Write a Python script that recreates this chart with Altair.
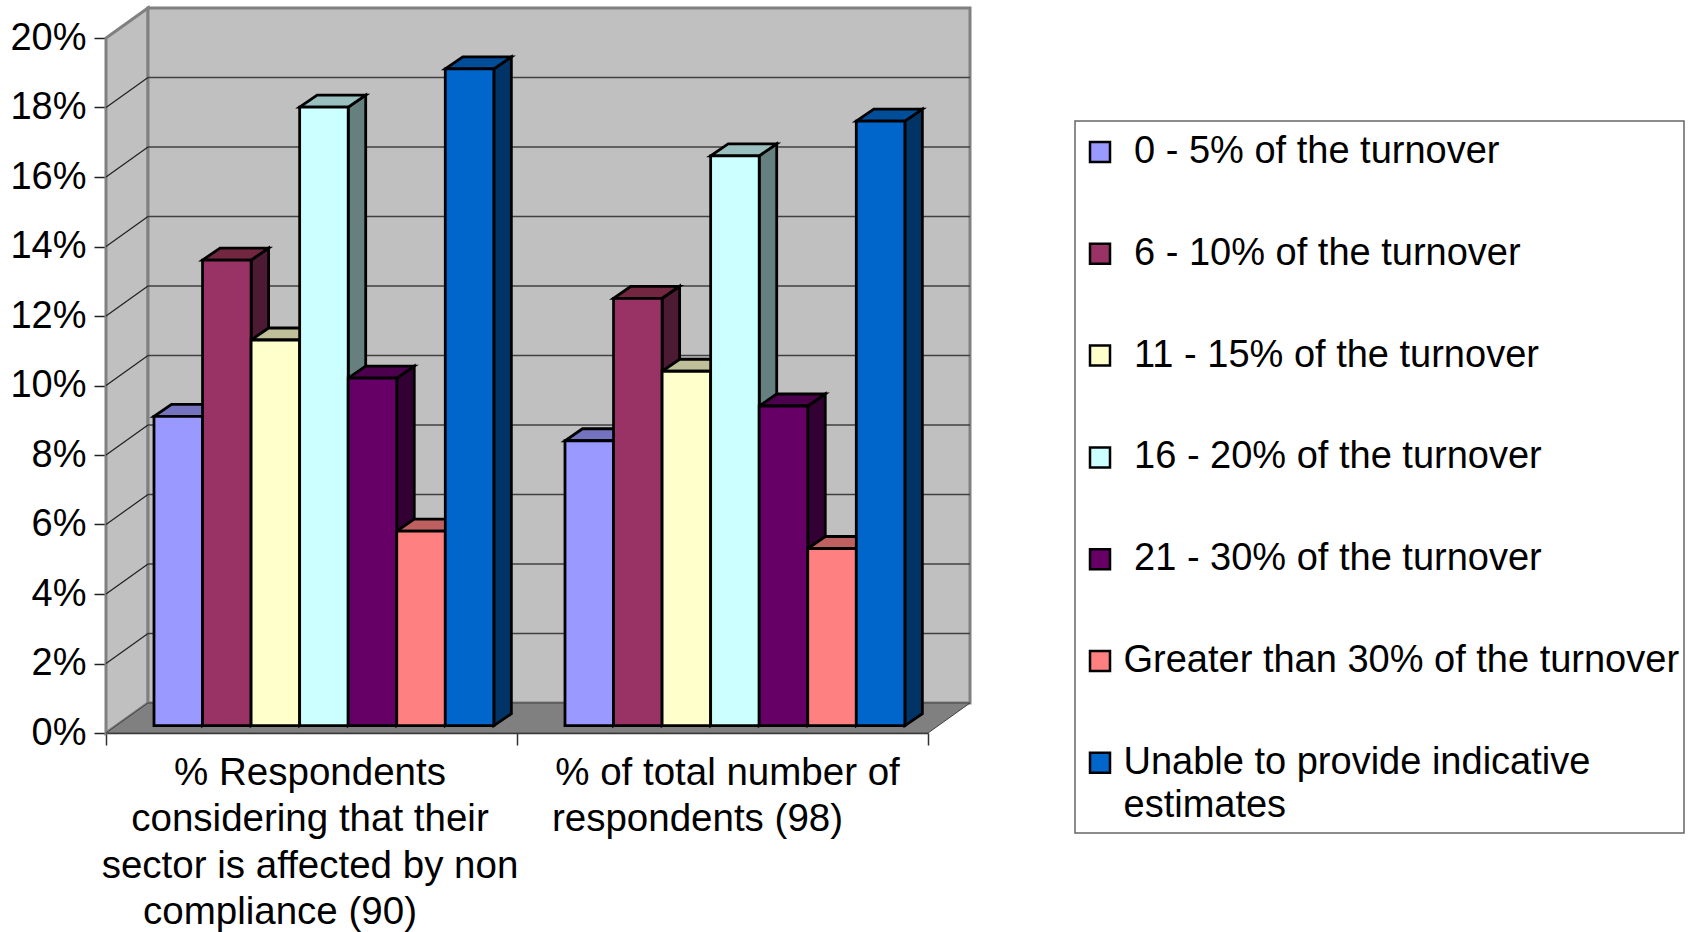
import altair as alt
import pandas as pd

# Survey answers: share of respondents per turnover band, one list per question group.
# A zero-width space keeps the leading blank of the five narrower band labels.
SERIES = [
    "\u200b\u00a00 - 5% of the turnover",
    "\u200b\u00a06 - 10% of the turnover",
    "\u200b\u00a011 - 15% of the turnover",
    "\u200b\u00a016 - 20% of the turnover",
    "\u200b\u00a021 - 30% of the turnover",
    "Greater than 30% of the turnover",
    "Unable to provide indicative estimates",
]
AFFECTED = [8.9, 13.4, 11.1, 17.8, 10.0, 5.6, 18.9]
TOTAL = [8.2, 12.3, 10.2, 16.4, 9.2, 5.1, 17.4]
FRONT = ["#9999FF", "#993366", "#FFFFCC", "#CCFFFF", "#660066", "#FF8080", "#0066CC"]
TOP = ["#7373BF", "#732640", "#BFBF99", "#99BFBF", "#4D004D", "#BF6060", "#004D99"]
SIDE = ["#4D4D80", "#4D1A33", "#808066", "#668080", "#330033", "#804040", "#003366"]
GROUP_LABELS = [
    ["% Respondents", "considering that their", "sector is affected by non", "compliance (90)"],
    ["% of total number of", "respondents (98)"],
]
TICKS = list(range(0, 21, 2))

# Pixel geometry of the plot area and the oblique projection
PLOT_W, PLOT_H = 822, 695
PAD = {"left": 106, "top": 38, "right": 766, "bottom": 199}
PX_X = PLOT_W / 2
PX_Y = PLOT_H / 20
WALL_DX, WALL_DY = 42 / PX_X, 30 / PX_Y
BAR_DX, BAR_DY = 17.5 / PX_X, 12 / PX_Y
BAR_X0 = 48 / PX_X
BAR_W = 48.55 / PX_X
BAR_BASE = 7.3 / PX_Y
BAR_STROKE = 2.8
FONT = "Liberation Sans"
FONT_SIZE = 38
CAPTION_SIZE = 38.5
CAPTION_TOP = -22 / PX_Y
CAPTION_STEP = 46.3 / PX_Y
CAPTION_CENTRES = [0.5 - 1.5 / PX_X, 1.5 + 5 / PX_X]
LAST_LINE_SHIFT = -30 / PX_X

fronts, tops, sides = [], [], []
for g, values in enumerate([AFFECTED, TOTAL]):
    for i, v in enumerate(values):
        key = f"{g}-{i}"
        x0 = g + BAR_X0 + i * BAR_W
        x1 = x0 + BAR_W
        top = BAR_BASE + v
        fronts.append({"series": SERIES[i], "x": x0, "x2": x1, "y": top, "y2": BAR_BASE})
        tops.append({"id": key, "shade": TOP[i], "x": x0, "x2": x1, "y": top})
        tops.append({"id": key, "shade": TOP[i], "x": x0 + BAR_DX, "x2": x1 + BAR_DX, "y": top + BAR_DY})
        sides.append({"id": key, "shade": SIDE[i], "x": x1, "y": top, "y2": BAR_BASE})
        sides.append({"id": key, "shade": SIDE[i], "x": x1 + BAR_DX, "y": top + BAR_DY, "y2": BAR_BASE + BAR_DY})

captions_rows = []
for g, lines in enumerate(GROUP_LABELS):
    for n, line in enumerate(lines):
        shift = LAST_LINE_SHIFT if n == len(lines) - 1 and n > 0 else 0
        captions_rows.append({
            "x": CAPTION_CENTRES[g] + shift,
            "y": CAPTION_TOP - n * CAPTION_STEP,
            "line": line,
        })

x_scale = alt.Scale(domain=[0, 2], nice=False, zero=False)
y_scale = alt.Scale(domain=[0, 20], nice=False, zero=False)

# Real axes along the front edge of the box, shared by every layer
x_axis = alt.Axis(
    title=None, values=[0, 1, 2], labels=False, grid=False, tickSize=12,
    domainColor="#333333", tickColor="#333333", domainWidth=1.5, tickWidth=1.5,
)
y_axis = alt.Axis(
    title=None, values=TICKS, grid=False, tickSize=12, labelPadding=8,
    labelExpr="datum.value + '%'", labelFont=FONT, labelFontSize=FONT_SIZE,
    labelColor="black", domainColor="#222222", tickColor="#222222",
    domainWidth=1.5, tickWidth=1.5,
)
X = lambda f="x": alt.X(f"{f}:Q", scale=x_scale, axis=x_axis, stack=None)
Y = lambda f="y": alt.Y(f"{f}:Q", scale=y_scale, axis=y_axis, stack=None)

# Legend frame
frame = alt.Chart(pd.DataFrame({"a": [0]})).mark_rect(
    fill="white", stroke="#666666", strokeWidth=1.5
).encode(
    x=alt.value(969), x2=alt.value(1578), y=alt.value(83), y2=alt.value(795)
)

# Left wall, back wall and floor
left_wall = alt.Chart(pd.DataFrame({
    "x": [0, WALL_DX], "y": [0, WALL_DY], "y2": [20, 20 + WALL_DY]
})).mark_area(fill="#C0C0C0", stroke="#808080", strokeWidth=3).encode(
    x=X(), y=Y(), y2="y2:Q"
)
back_wall = alt.Chart(pd.DataFrame({
    "x": [WALL_DX], "x2": [2 + WALL_DX], "y": [WALL_DY], "y2": [20 + WALL_DY]
})).mark_rect(fill="#C0C0C0", stroke="#808080", strokeWidth=3).encode(
    x=X(), x2="x2:Q", y=Y(), y2="y2:Q"
)
floor = alt.Chart(pd.DataFrame({
    "x": [0, WALL_DX], "x2": [2, 2 + WALL_DX], "y": [0, WALL_DY]
})).mark_area(orient="horizontal", fill="#808080", stroke="#404040", strokeWidth=1).encode(
    x=X(), x2="x2:Q", y=Y()
)

# Gridlines run along the back wall and fold down the left wall
grid_back = alt.Chart(pd.DataFrame({
    "x": [WALL_DX] * 9, "x2": [2 + WALL_DX] * 9, "y": [t + WALL_DY for t in TICKS[1:-1]]
})).mark_rule(color="#404040", strokeWidth=1.4).encode(x=X(), x2="x2:Q", y=Y())
grid_rows = []
for t in TICKS[1:-1]:
    grid_rows.append({"t": t, "x": 0, "y": t})
    grid_rows.append({"t": t, "x": WALL_DX, "y": t + WALL_DY})
grid_left = alt.Chart(pd.DataFrame(grid_rows)).mark_line(color="#202020", strokeWidth=1.2).encode(
    x=X(), y=Y(), detail="t:N"
)

# Bars: sides first, then tops, then fronts so neighbours overlap correctly
side_faces = alt.Chart(pd.DataFrame(sides)).mark_area(stroke="black", strokeWidth=BAR_STROKE).encode(
    x=X(), y=Y(), y2="y2:Q", detail="id:N", fill=alt.Fill("shade:N", scale=None)
)
top_faces = alt.Chart(pd.DataFrame(tops)).mark_area(orient="horizontal", stroke="black", strokeWidth=BAR_STROKE).encode(
    x=X(), x2="x2:Q", y=Y(), detail="id:N", fill=alt.Fill("shade:N", scale=None)
)
front_faces = alt.Chart(pd.DataFrame(fronts)).mark_rect(stroke="black", strokeWidth=BAR_STROKE).encode(
    x=X(), x2="x2:Q", y=Y(), y2="y2:Q",
    color=alt.Color(
        "series:N",
        scale=alt.Scale(domain=SERIES, range=FRONT),
        legend=alt.Legend(
            title=None,
            orient="none",
            legendX=975,
            legendY=95,
            padding=0,
            symbolType="square",
            symbolSize=400,
            symbolStrokeColor="black",
            symbolStrokeWidth=2.5,
            symbolOpacity=1,
            labelFont=FONT,
            labelFontSize=FONT_SIZE,
            labelColor="black",
            labelLimit=700,
            labelOffset=4.5,
            labelBaseline="middle",
            rowPadding=63.8,
            labelExpr="datum.label == 'Unable to provide indicative estimates' ? ['Unable to provide indicative', 'estimates'] : datum.label",
        ),
    ),
)

# Category captions under each group
captions = alt.Chart(pd.DataFrame(captions_rows)).mark_text(
    font=FONT, fontSize=CAPTION_SIZE, baseline="top", align="center", color="black",
).encode(x=X(), y=Y(), text="line:N")

chart = alt.layer(
    frame, left_wall, back_wall, floor, grid_back, grid_left,
    side_faces, top_faces, front_faces, captions,
).properties(
    width=PLOT_W,
    height=PLOT_H,
    padding=PAD,
    autosize=alt.AutoSizeParams(type="none"),
    background="white",
).configure_view(stroke=None).configure(
    style={"guide-label": {"lineHeight": 43}}
)

chart.save("out.html", embed_options={"renderer": "svg", "actions": False})
